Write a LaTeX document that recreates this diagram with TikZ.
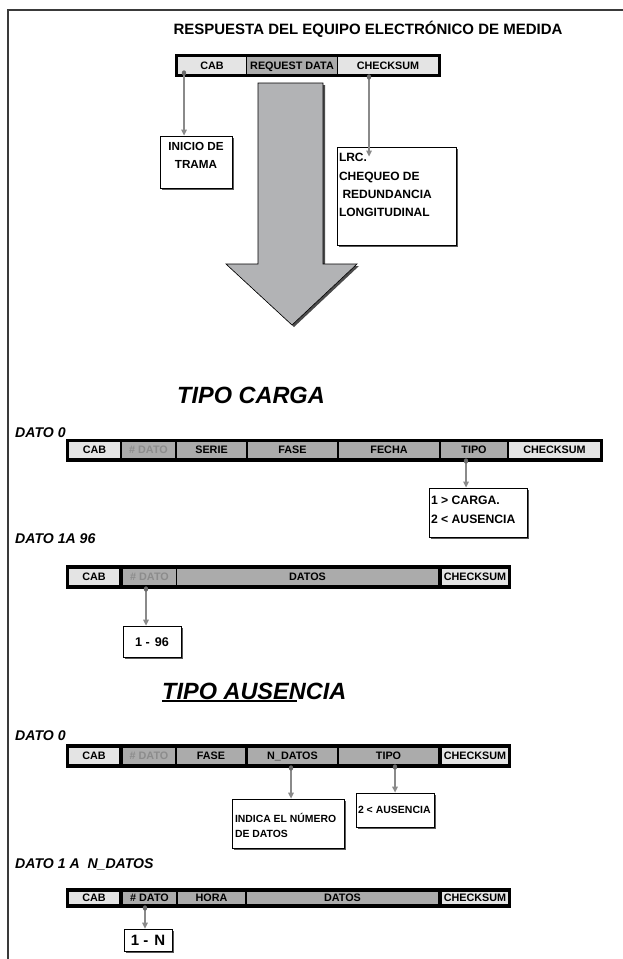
\documentclass[tikz,border=0pt]{standalone}
\usepackage{fontspec}
\setmainfont{Liberation Sans}
\newfontfamily\tipofont{Liberation Sans}
\usetikzlibrary{arrows.meta,shadows,calc}
\definecolor{lightc}{HTML}{E4E4E4}
\definecolor{darkc}{HTML}{ABABAB}
\definecolor{connc}{HTML}{8A8A8A}
\definecolor{dotc}{HTML}{6A6A6A}
\definecolor{dimtxt}{HTML}{8C8C8C}
\definecolor{arrowc}{HTML}{B2B3B5}
\definecolor{framec}{HTML}{3A3A3A}
\newcommand\bcell[8]{\node[cellbox, fill=#6, text=#7, minimum width={(#3-#2)*1pt}, minimum height={(#5-#4)*1pt}] (#1) at ({(#2+#3)/2},{(#4+#5)/2}) {#8};}
\begin{document}
\begin{tikzpicture}[x=1pt,y=-1pt,
  cellbox/.style={inner sep=0pt, font=\fontsize{10.8}{10.8}\selectfont\bfseries, text height=7.7pt, text depth=0pt},
  infobox/.style={draw=black, line width=0.8pt, fill=white, inner xsep=2pt, inner ysep=0pt,
    general shadow={fill=black!65, shadow xshift=2pt, shadow yshift=-2pt}},
  conn/.style={draw=connc, line width=1.3pt, -{Triangle[width=5.5pt,length=6pt]}},
  lbl/.style={inner sep=0pt, anchor=base west, font=\fontsize{14.1}{14.1}\selectfont\bfseries\itshape},
  bigtitle/.style={inner sep=0pt, font=\tipofont\fontsize{23.5}{23.5}\selectfont\bfseries\itshape},
]
\useasboundingbox (0,0) rectangle (623,959);
\fill[white] (0,0) rectangle (623,959);
\draw[framec, line width=1.4pt] (8,959) -- (8,10) -- (623,10);

% title
\node[inner sep=0pt, anchor=base, font=\fontsize{15}{15}\selectfont\bfseries] (title) at (368,34.5) {RESPUESTA DEL EQUIPO ELECTRÓNICO DE MEDIDA};

% bar 1
\fill[black] (175,54) rectangle (441,77);
\bcell{aCab}{178}{246}{57}{74}{lightc}{black}{CAB}
\bcell{aReq}{247}{337}{57}{74}{darkc}{black}{REQUEST DATA}
\bcell{aChk}{338}{438}{57}{74}{lightc}{black}{CHECKSUM}

% big arrow
\fill[black!70] (260,85) -- (325,85) -- (325,266) -- (359,266) -- (294,327) -- (228,266) -- (260,266) -- cycle;
\filldraw[fill=arrowc, draw=black, line width=0.6pt] (258,83) -- (323,83) -- (323,264) -- (357,264) -- (292,325) -- (226,264) -- (258,264) -- cycle;

% boxes top
\node[infobox, font=\fontsize{11.7}{18}\selectfont\bfseries] (inicio) at (196,162)
  {\parbox[t][52pt][t]{68pt}{\centering\vspace*{4.7pt}\rule{0pt}{10pt}INICIO DE\\TRAMA}};
\node[infobox, font=\fontsize{12}{18.3}\selectfont\bfseries] (lrc) at (396.5,196)
  {\parbox[t][98pt][t]{115pt}{\vspace*{4.7pt}\rule{0pt}{10pt}LRC.\\CHEQUEO DE\\\hspace*{3.5pt}REDUNDANCIA\\LONGITUDINAL}};

% TIPO CARGA
\node[bigtitle, anchor=base] (tcarga) at (251,403) {TIPO CARGA};

% DATO 0 (carga)
\node[lbl] (l1) at (15,437) {DATO 0};
\fill[black] (66,439) rectangle (603,462);
\bcell{bCab}{69}{120}{442}{458}{lightc}{black}{CAB}
\bcell{bNum}{122}{175}{442}{458}{darkc}{dimtxt}{\# DATO}
\bcell{bSer}{177}{246}{442}{458}{darkc}{black}{SERIE}
\bcell{bFas}{248}{337}{442}{458}{darkc}{black}{FASE}
\bcell{bFec}{339}{439}{442}{458}{darkc}{black}{FECHA}
\bcell{bTip}{441}{507}{442}{458}{darkc}{black}{TIPO}
\bcell{bChk}{509}{600}{442}{458}{lightc}{black}{CHECKSUM}
\node[infobox, font=\fontsize{12.2}{19}\selectfont\bfseries] (box1) at (478,512.5)
  {\parbox[t][49pt][t]{94pt}{\vspace*{6.7pt}\rule{0pt}{10pt}1 > CARGA.\\2 < AUSENCIA}};

% DATO 1A 96
\node[lbl] (l2) at (15,543) {DATO 1A 96};
\fill[black] (66,565) rectangle (511,589);
\bcell{cCab}{69}{119}{569}{585}{lightc}{black}{CAB}
\bcell{cNum}{123}{176}{569}{585}{darkc}{dimtxt}{\# DATO}
\bcell{cDat}{177}{438}{569}{585}{darkc}{black}{DATOS}
\bcell{cChk}{442}{508}{569}{585}{lightc}{black}{CHECKSUM}
\node[infobox, inner sep=0pt, minimum width=58pt, minimum height=31pt, font=\fontsize{12.6}{12.6}\selectfont\bfseries, text height=9pt, text depth=0pt] (b96) at (152,641.5) {1 -\hspace{5pt}96};

% TIPO AUSENCIA
\node[bigtitle, anchor=base west] (tausencia) at (162,699) {TIPO AUSENCIA};
\draw[line width=1.6pt] ($(tausencia.base west)+(0,2.2)$) -- ++(135,0);

% DATO 0 (ausencia)
\node[lbl] (l3) at (15,740) {DATO 0};
\fill[black] (66,744) rectangle (511,768);
\bcell{dCab}{69}{119}{748}{764}{lightc}{black}{CAB}
\bcell{dNum}{123}{175}{748}{764}{darkc}{dimtxt}{\# DATO}
\bcell{dFas}{177}{245}{748}{764}{darkc}{black}{FASE}
\bcell{dNd}{248}{337}{748}{764}{darkc}{black}{N\_DATOS}
\bcell{dTip}{339}{438}{748}{764}{darkc}{black}{TIPO}
\bcell{dChk}{442}{508}{748}{764}{lightc}{black}{CHECKSUM}
\node[infobox, inner xsep=3pt, font=\fontsize{10.4}{15}\selectfont\bfseries] (indica) at (288,823.5)
  {\parbox[t][49pt][t]{106pt}{\vspace*{13.7pt}\rule{0pt}{10pt}INDICA EL NÚMERO\\DE DATOS}};
\node[infobox, font=\fontsize{10.5}{12}\selectfont\bfseries] (aus2) at (395,810)
  {\parbox[t][34pt][t]{74pt}{\vspace*{10.7pt}\rule{0pt}{10pt}2 < AUSENCIA}};

% DATO 1 A N_DATOS
\node[lbl] (l4) at (15,868) {DATO 1 A\ \ N\_DATOS};
\fill[black] (66,888) rectangle (511,908);
\bcell{eCab}{69}{119}{891.5}{904}{lightc}{black}{CAB}
\bcell{eNum}{123}{176}{891.5}{904}{darkc}{black}{\# DATO}
\bcell{eHor}{178}{245}{891.5}{904}{darkc}{black}{HORA}
\bcell{eDat}{247}{438}{891.5}{904}{darkc}{black}{DATOS}
\bcell{eChk}{442}{508}{891.5}{904}{lightc}{black}{CHECKSUM}
\node[infobox, inner sep=0pt, minimum width=48pt, minimum height=22pt, font=\fontsize{15}{15}\selectfont\bfseries, text height=10.7pt, text depth=0pt] (b1n) at (148,940) {1 -\hspace{6pt}N};

% connectors
\coordinate (d1) at (184,73);
\coordinate (d2) at (369,77);
\coordinate (d3) at (466,461);
\coordinate (d4) at (146,589);
\coordinate (d5) at (291,768);
\coordinate (d6) at (395,767);
\coordinate (d7) at (145,908);
\draw[conn] (d1) -- (inicio.north -| d1);
\draw[conn] (d2) -- ($(lrc.north -| d2)+(0,10)$);
\draw[conn] (d3) -- (box1.north -| d3);
\draw[conn] (d4) -- (b96.north -| d4);
\draw[conn] (d5) -- (indica.north -| d5);
\draw[conn] (d6) -- (aus2.north -| d6);
\draw[conn] (d7) -- (b1n.north -| d7);
\foreach \d in {d1,d2,d3,d4,d5,d6,d7}
  \fill[dotc] (\d) ellipse [x radius=2.2pt, y radius=2.7pt];
\end{tikzpicture}
\end{document}
